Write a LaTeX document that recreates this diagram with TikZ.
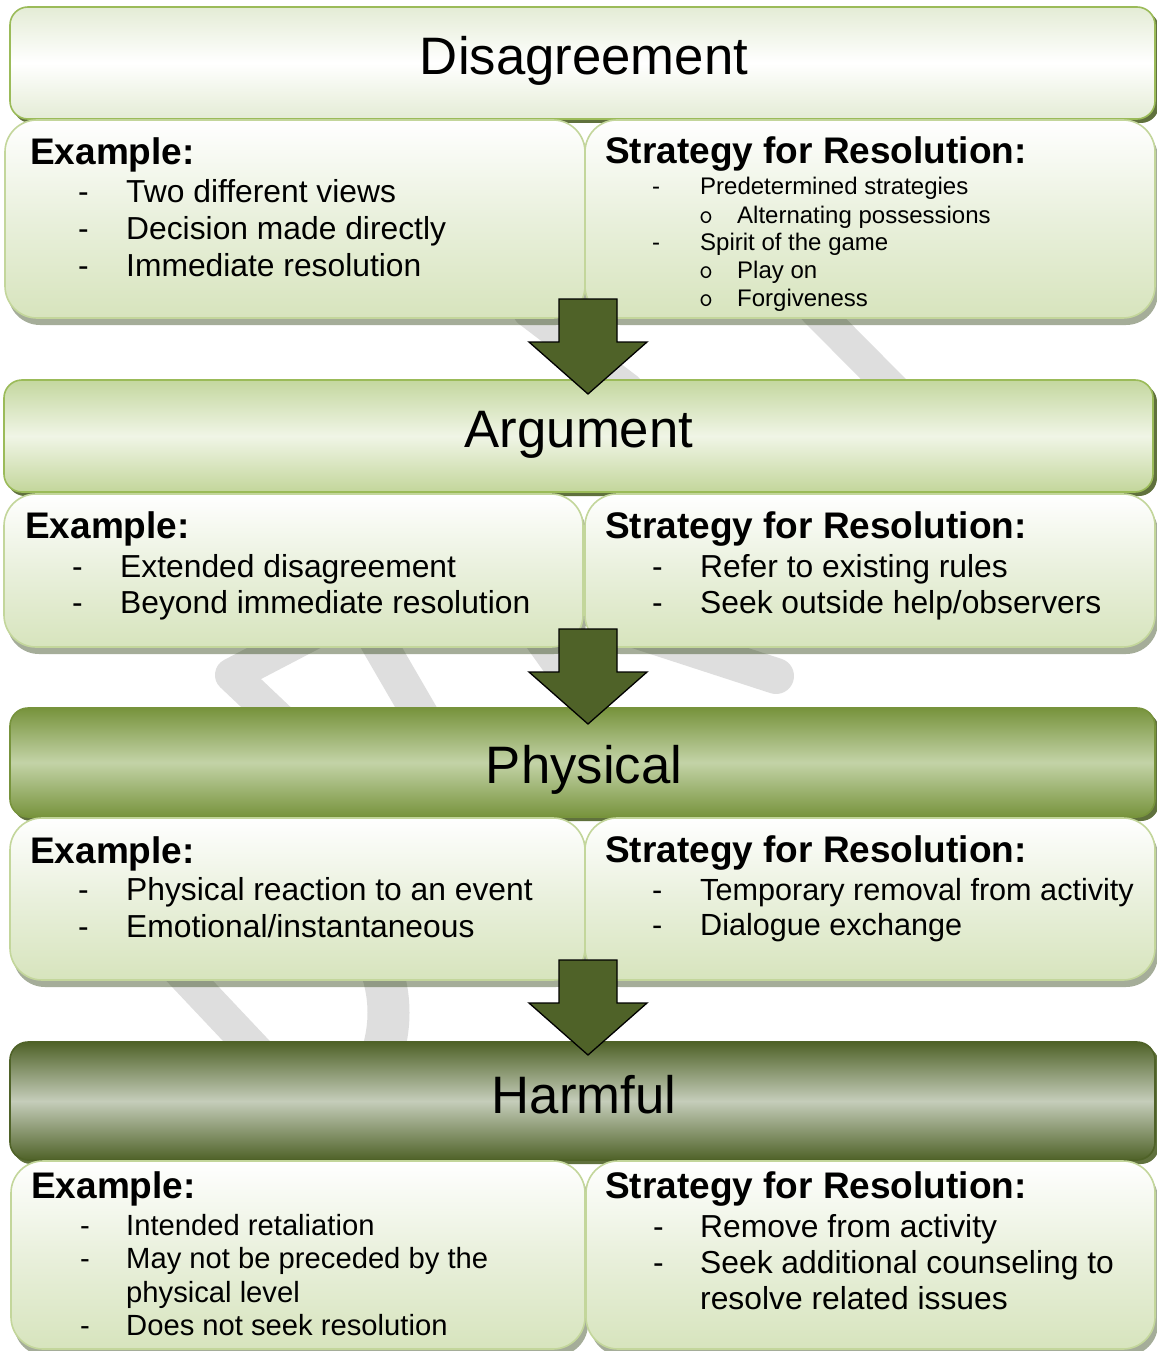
\documentclass[tikz,border=0pt]{standalone}
\usepackage{fontspec}
\setmainfont{Liberation Sans}
\definecolor{cDark}{HTML}{4F6228}
\definecolor{cMid}{HTML}{77933C}
\definecolor{cBorder}{HTML}{9BBB59}
\definecolor{cLightBorder}{HTML}{C3D69B}
\definecolor{cSubBottom}{HTML}{D7E4BD}
\definecolor{cSubMid}{HTML}{E9F0DC}
\definecolor{cDisEdge}{HTML}{E4ECD5}
\definecolor{cArgTop}{HTML}{C4D79F}
\definecolor{cArgMid}{HTML}{F0F5E6}
\definecolor{cPhysMid}{HTML}{C3D3A7}
\definecolor{cHarmMid}{HTML}{C5CDBA}
\definecolor{cWater}{HTML}{DEDEDE}
\definecolor{cShadow}{RGB}{30,52,0}
\begin{document}
\begin{tikzpicture}[x=1pt,y=-1pt,
  wm/.style={draw=cWater,line width=36pt,line cap=round,line join=round},
  titleshadow/.style={rounded corners=18pt,fill=cDark,fill opacity=0.9},
  titlebox/.style={rounded corners=18pt,line width=1.6pt},
  subshadow/.style={rounded corners=32pt,fill=cShadow,fill opacity=0.4},
  subbox/.style={rounded corners=32pt,draw=cLightBorder,line width=1.6pt,
    top color=white,bottom color=cSubBottom,middle color=cSubMid},
  blockarrow/.style={fill=cDark,draw=black,line width=1.3pt,line join=miter},
  titletext/.style={font=\fontsize{52.7}{60}\selectfont,anchor=base,inner sep=0pt},
  headtext/.style={font=\bfseries\fontsize{37}{42}\selectfont,anchor=base west,inner sep=0pt},
  itemtext/.style={font=\fontsize{31.8}{37}\selectfont,anchor=base west,inner sep=0pt},
  physstrat/.style={font=\fontsize{30.6}{36}\selectfont,anchor=base west,inner sep=0pt},
  smalltext/.style={font=\fontsize{24}{28}\selectfont,anchor=base west,inner sep=0pt},
  harmtext/.style={font=\fontsize{29.2}{33}\selectfont,anchor=base west,inner sep=0pt},
  circbullet/.style={font=\ttfamily\fontsize{27}{30}\selectfont,anchor=base west,inner sep=0pt},
  blockdown/.pic={\filldraw[blockarrow] (-29,0) -- (29,0) -- (29,43) -- (59,43) -- (0,95) -- (-59,43) -- (-29,43) -- cycle;}
]
\useasboundingbox (0,0) rectangle (1156,1351);
\fill[white] (0,0) rectangle (1156,1351);

% watermark fragments
\draw[wm,line width=32pt] (800,295) -- (912,408);
\draw[wm,line width=30pt] (528,312) -- (628,388);
\draw[wm,line width=34pt] (322,628) -- (232,675) -- (288,728);
\draw[wm] (370,628) -- (428,728);
\draw[wm,line width=34pt] (535,630) -- (585,700);
\draw[wm] (610,622) -- (776,676);
\draw[wm,line width=34pt] (170,960) -- (270,1066);
\draw[wm,line width=42pt] (378,960) .. controls (392,995) and (392,1030) .. (378,1066);

% ---------- section 1 ----------
\path[titleshadow] (13,11) rectangle (1159,123);
\draw[titlebox,draw=cBorder,top color=cDisEdge,bottom color=cDisEdge,middle color=white] (10,7) rectangle (1155,119);
\path[subshadow] (8,126) rectangle (588,325);
\draw[subbox] (5,120) rectangle (585,318);
\path[subshadow] (588,126) rectangle (1158,325);
\draw[subbox] (585,120) rectangle (1155,318);

\node[titletext] (t1) at (584,75) {Disagreement};
\node[headtext] (e1h) at (30,165) {Example:};
\node[itemtext] (e1d1) at (78,202) {-};
\node[itemtext] (e1i1) at (126,202) {Two different views};
\node[itemtext] (e1d2) at (78,239) {-};
\node[itemtext] (e1i2) at (126,239) {Decision made directly};
\node[itemtext] (e1d3) at (78,276) {-};
\node[itemtext] (e1i3) at (126,276) {Immediate resolution};
\node[headtext] (s1h) at (605,164) {Strategy for Resolution:};
\node[smalltext] (s1d1) at (652,195) {-};
\node[smalltext] (s1i1) at (700,195) {Predetermined strategies};
\node[circbullet] (s1o1) at (699,223) {o};
\node[smalltext] (s1i2) at (737,223) {Alternating possessions};
\node[smalltext] (s1d2) at (652,250) {-};
\node[smalltext] (s1i3) at (700,250) {Spirit of the game};
\node[circbullet] (s1o2) at (699,278) {o};
\node[smalltext] (s1i4) at (737,278) {Play on};
\node[circbullet] (s1o3) at (699,306) {o};
\node[smalltext] (s1i5) at (737,306) {Forgiveness};

% ---------- section 2 ----------
\path[titleshadow] (7,384) rectangle (1157,496);
\draw[titlebox,draw=cBorder,top color=cArgTop,bottom color=cLightBorder,middle color=cArgMid] (4,380) rectangle (1153,492);
\path[subshadow] (7,500) rectangle (586,654);
\draw[subbox] (4,494) rectangle (583,647);
\path[subshadow] (588,500) rectangle (1158,654);
\draw[subbox] (585,494) rectangle (1155,647);

\node[titletext] (t2) at (579,447) {Argument};
\node[headtext] (e2h) at (25,538) {Example:};
\node[itemtext] (e2d1) at (72,577) {-};
\node[itemtext] (e2i1) at (120,577) {Extended disagreement};
\node[itemtext] (e2d2) at (72,613) {-};
\node[itemtext] (e2i2) at (120,613) {Beyond immediate resolution};
\node[headtext] (s2h) at (605,538) {Strategy for Resolution:};
\node[itemtext] (s2d1) at (652,577) {-};
\node[itemtext] (s2i1) at (700,577) {Refer to existing rules};
\node[itemtext] (s2d2) at (652,613) {-};
\node[itemtext] (s2i2) at (700,613) {Seek outside help/observers};

% ---------- section 3 ----------
\path[titleshadow] (13,712) rectangle (1159,821);
\draw[titlebox,draw=cMid,top color=cMid,bottom color=cMid,middle color=cPhysMid] (10,708) rectangle (1155,817);
\path[subshadow] (13,824) rectangle (588,987);
\draw[subbox] (10,818) rectangle (585,980);
\path[subshadow] (588,824) rectangle (1158,987);
\draw[subbox] (585,818) rectangle (1155,980);

\node[titletext] (t3) at (584,783) {Physical};
\node[headtext] (e3h) at (30,863) {Example:};
\node[itemtext] (e3d1) at (78,900) {-};
\node[itemtext] (e3i1) at (126,900) {Physical reaction to an event};
\node[itemtext] (e3d2) at (78,937) {-};
\node[itemtext] (e3i2) at (126,937) {Emotional/instantaneous};
\node[headtext] (s3h) at (605,862) {Strategy for Resolution:};
\node[physstrat] (s3d1) at (652,900) {-};
\node[physstrat] (s3i1) at (700,900) {Temporary removal from activity};
\node[physstrat] (s3d2) at (652,935) {-};
\node[physstrat] (s3i2) at (700,935) {Dialogue exchange};

% ---------- section 4 ----------
\path[titleshadow] (13,1046) rectangle (1159,1164);
\draw[titlebox,draw=cDark,top color=cDark,bottom color=cDark,middle color=cHarmMid] (10,1042) rectangle (1155,1160);
\path[subshadow] (14,1167) rectangle (588,1356);
\draw[subbox] (11,1161) rectangle (585,1349);
\path[subshadow] (590,1167) rectangle (1158,1356);
\draw[subbox] (586,1161) rectangle (1155,1349);

\node[titletext] (t4) at (584,1113) {Harmful};
\node[headtext] (e4h) at (31,1198) {Example:};
\node[harmtext] (e4d1) at (80,1235) {-};
\node[harmtext] (e4i1) at (126,1235) {Intended retaliation};
\node[harmtext] (e4d2) at (80,1268) {-};
\node[harmtext] (e4i2) at (126,1268) {May not be preceded by the};
\node[harmtext] (e4i3) at (126,1302) {physical level};
\node[harmtext] (e4d3) at (80,1335) {-};
\node[harmtext] (e4i4) at (126,1335) {Does not seek resolution};
\node[headtext] (s4h) at (605,1198) {Strategy for Resolution:};
\node[itemtext] (s4d1) at (653,1237) {-};
\node[itemtext] (s4i1) at (700,1237) {Remove from activity};
\node[itemtext] (s4d2) at (653,1273) {-};
\node[itemtext] (s4i2) at (700,1273) {Seek additional counseling to};
\node[itemtext] (s4i3) at (700,1309) {resolve related issues};

% ---------- block arrows ----------
\pic at (588,299) {blockdown};
\pic at (588,629) {blockdown};
\pic at (588,960) {blockdown};
\end{tikzpicture}
\end{document}
